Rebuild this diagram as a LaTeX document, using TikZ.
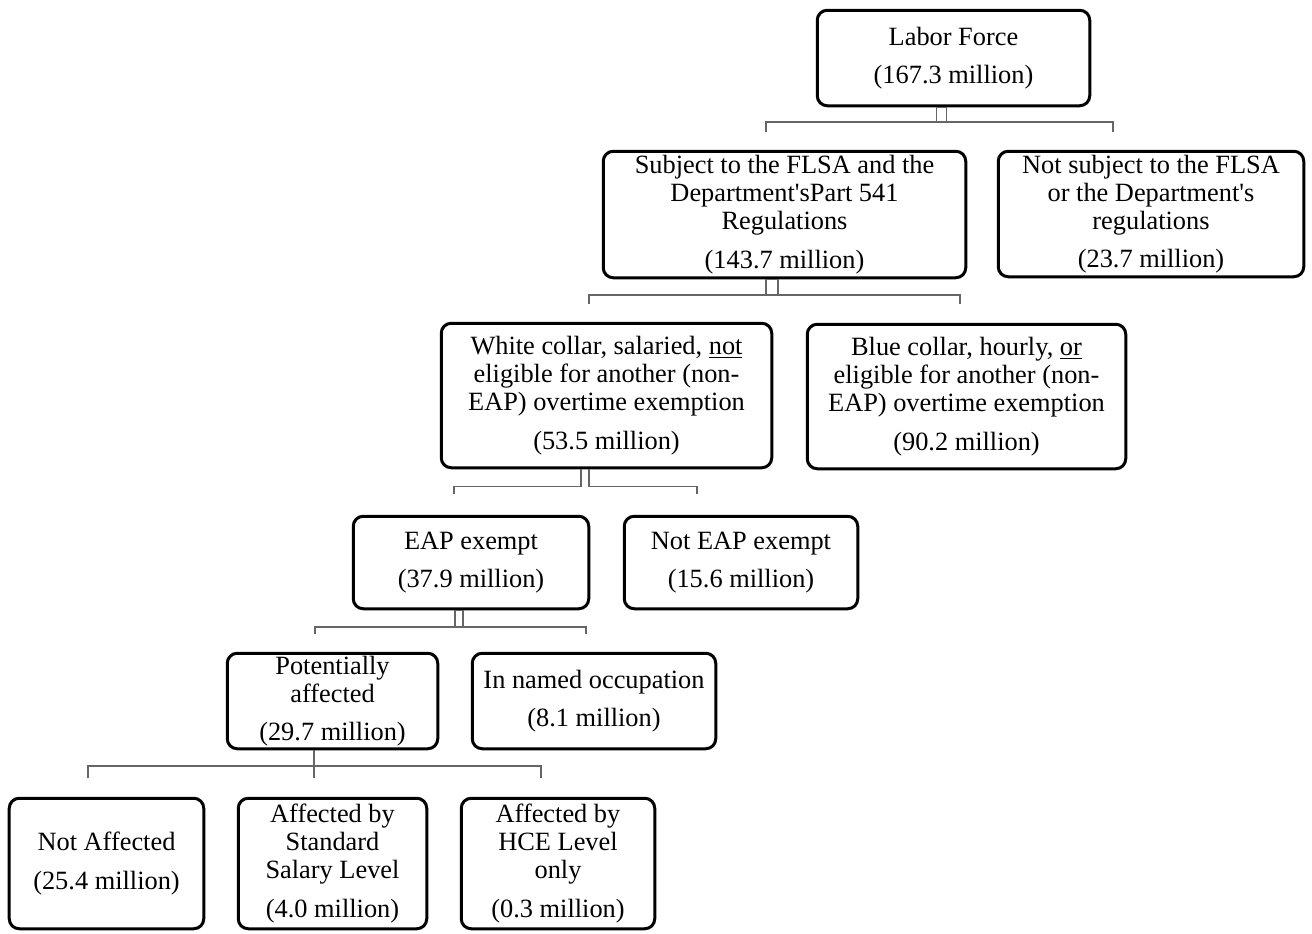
\documentclass[tikz,border=0pt]{standalone}
\usepackage{fontspec}
\setmainfont{Liberation Serif}
\tikzset{
    every node/.style={rectangle, rounded corners=2mm, draw, line width=0.6mm, align=center, inner sep=0mm, font=\fontsize{15}{15.9}\selectfont}
}
\tikzset{link/.style={draw=black!60, line width=0.25mm}}

\begin{document}
\begin{tikzpicture}[x=0.2mm, y=-0.2mm]
    \useasboundingbox (0,0) rectangle (1312,933);

    \node (labor) [minimum width=54.5mm, minimum height=19.1mm] at (953.5, 58) {Labor Force\\[6pt](167.3 million)};
    \node (subj) [minimum width=72.5mm, minimum height=25.3mm] at (784.5, 214.5) {Subject to the FLSA and the\\Department\textquotesingle sPart 541\\Regulations\\[6pt](143.7 million)};
    \node (notsubj) [minimum width=61.1mm, minimum height=25.1mm] at (1151, 214) {Not subject to the FLSA\\or the Department\textquotesingle s\\regulations\\[6pt](23.7 million)};
    \node (white) [minimum width=66.1mm, minimum height=28.9mm] at (606.5, 395.5) {White collar, salaried, \underline{not}\\eligible for another (non-\\EAP) overtime exemption\\[6pt](53.5 million)};
    \node (blue) [minimum width=63.7mm, minimum height=28.9mm] at (966.5, 396.5) {Blue collar, hourly, \underline{or}\\eligible for another (non-\\EAP) overtime exemption\\[6pt](90.2 million)};
    \node (eap) [minimum width=47.1mm, minimum height=18.5mm] at (471, 562.5) {EAP exempt\\[6pt](37.9 million)};
    \node (noteap) [minimum width=46.7mm, minimum height=18.5mm] at (741, 562.5) {Not EAP exempt\\[6pt](15.6 million)};
    \node (pot) [minimum width=42.1mm, minimum height=19.1mm] at (332.5, 701) {Potentially\\affected\\[6pt](29.7 million)};
    \node (named) [minimum width=48.7mm, minimum height=19.1mm] at (594, 701) {In named occupation\\[6pt](8.1 million)};
    \node (notaff) [minimum width=38.9mm, minimum height=26.1mm] at (106.5, 863.5) {Not Affected\\[6pt](25.4 million)};
    \node (std) [minimum width=37.7mm, minimum height=26.1mm] at (332.5, 863.5) {Affected by\\Standard\\Salary Level\\[6pt](4.0 million)};
    \node (hce) [minimum width=38.7mm, minimum height=26.1mm] at (558, 863.5) {Affected by\\HCE Level\\only\\[6pt](0.3 million)};

    \coordinate (c1l) at (766, 132);
    \coordinate (c1r) at (1113, 132);
    \coordinate (c2l) at (589, 304);
    \coordinate (c2r) at (960, 304);
    \coordinate (c3l) at (454, 494);
    \coordinate (c3r) at (697, 494);
    \coordinate (c4l) at (315, 634);
    \coordinate (c4r) at (586, 634);
    \coordinate (c5l) at (88, 778);
    \coordinate (c5r) at (541, 778);

    \draw[link] (labor.south) ++(-17,0) rectangle ++(10,15);
    \draw[link] (c1l) -- ++(0,-10) -| (c1r);
    \draw[link] (subj.south) ++(-18.5,0) rectangle ++(12,16);
    \draw[link] (c2l) -- ++(0,-9) -| (c2r);
    \draw[link] (white.south) ++(-25.5,0) -- ++(0,17) -| (c3l);
    \draw[link] (white.south) ++(-17.5,0) -- ++(0,17) -| (c3r);
    \draw[link] (eap.south) ++(-16,0) rectangle ++(8,17);
    \draw[link] (c4l) -- ++(0,-7) -| (c4r);
    \draw[link] (pot.south) ++(-18.5,0) -- ++(0,28);
    \draw[link] (c5l) -- ++(0,-12) -| (c5r);
\end{tikzpicture}
\end{document}
